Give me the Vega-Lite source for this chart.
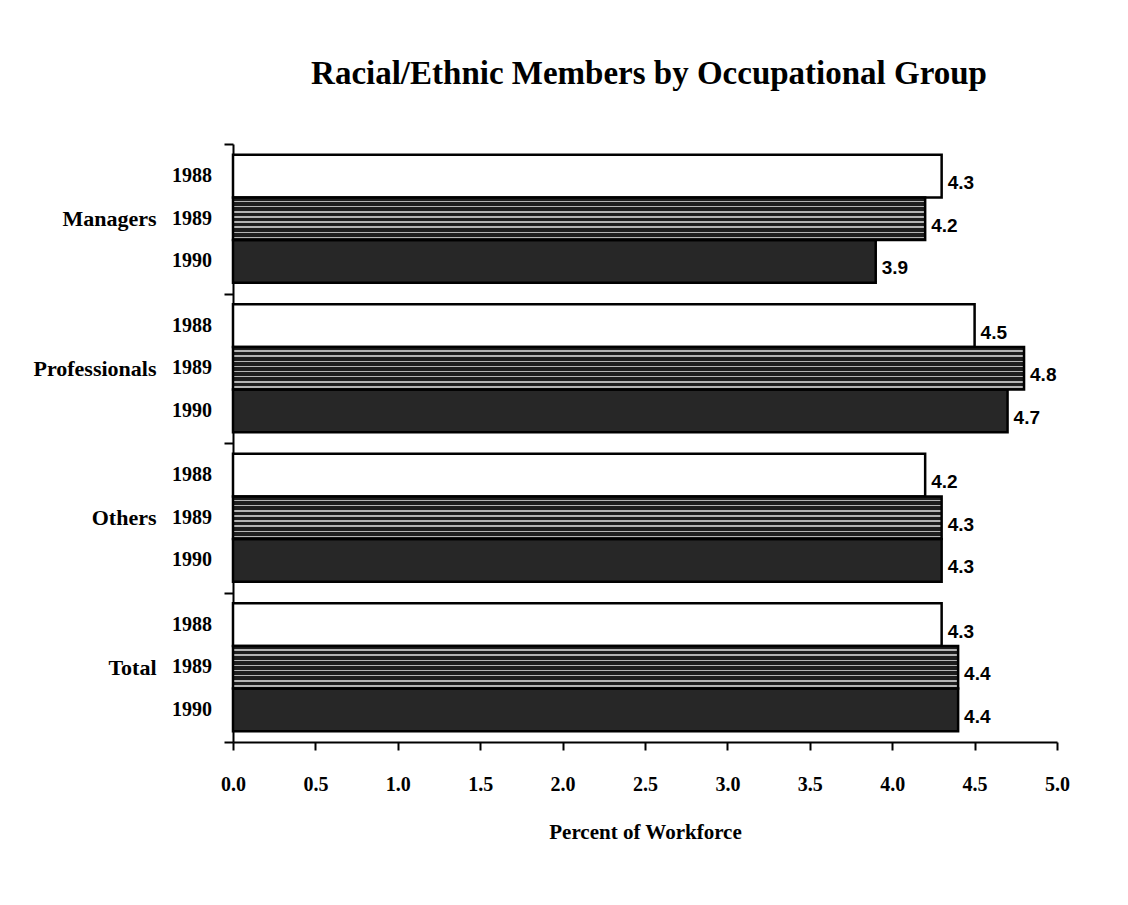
{
  "$schema": "https://vega.github.io/schema/vega-lite/v6.json",
  "width": 824,
  "height": 598,
  "autosize": {"type": "none"},
  "padding": {"left": 233, "top": 144, "right": 71, "bottom": 163},
  "background": "white",
  "config": {"view": {"stroke": null}},
  "title": {
    "text": "Racial/Ethnic Members by Occupational Group",
    "font": "Liberation Serif",
    "fontSize": 33,
    "fontWeight": "bold",
    "color": "black",
    "anchor": "middle",
    "frame": "group",
    "offset": 42,
    "dx": 4
  },
  "data": {
    "values": [
      {"group": "Managers", "year": "1988", "value": 4.3},
      {"group": "Managers", "year": "1989", "value": 4.2},
      {"group": "Managers", "year": "1990", "value": 3.9},
      {"group": "Professionals", "year": "1988", "value": 4.5},
      {"group": "Professionals", "year": "1989", "value": 4.8},
      {"group": "Professionals", "year": "1990", "value": 4.7},
      {"group": "Others", "year": "1988", "value": 4.2},
      {"group": "Others", "year": "1989", "value": 4.3},
      {"group": "Others", "year": "1990", "value": 4.3},
      {"group": "Total", "year": "1988", "value": 4.3},
      {"group": "Total", "year": "1989", "value": 4.4},
      {"group": "Total", "year": "1990", "value": 4.4}
    ]
  },
  "encoding": {
    "y": {
      "field": "group",
      "type": "nominal",
      "sort": ["Managers", "Professionals", "Others", "Total"],
      "scale": {"paddingInner": 0, "paddingOuter": 0},
      "axis": {
        "title": null,
        "tickBand": "extent",
        "tickSize": 9,
        "tickWidth": 2,
        "tickColor": "black",
        "domainColor": "black",
        "domainWidth": 2,
        "labelFont": "Liberation Serif",
        "labelFontWeight": "bold",
        "labelFontSize": 22,
        "labelColor": "black",
        "labelPadding": 68
      }
    },
    "yOffset": {
      "field": "year",
      "type": "nominal",
      "sort": ["1988", "1989", "1990"],
      "scale": {"domain": ["1988", "1989", "1990"], "paddingInner": 0, "paddingOuter": 0.25}
    }
  },
  "layer": [
    {
      "transform": [{"filter": "datum.year !== '1989'"}],
      "mark": {"type": "bar", "stroke": "black", "strokeWidth": 2.5},
      "encoding": {
        "x": {
          "field": "value",
          "type": "quantitative",
          "scale": {"domain": [0, 5], "nice": false},
          "axis": {
            "title": "Percent of Workforce",
            "values": [0, 0.5, 1, 1.5, 2, 2.5, 3, 3.5, 4, 4.5, 5],
            "format": ".1f",
            "grid": false,
            "labelFont": "Liberation Serif",
            "labelFontWeight": "bold",
            "labelFontSize": 20,
            "labelColor": "black",
            "labelPadding": 24,
            "labelFlush": false,
            "tickSize": 8,
            "tickWidth": 2,
            "tickColor": "black",
            "domainColor": "black",
            "domainWidth": 2,
            "titleFont": "Liberation Serif",
            "titleFontSize": 21,
            "titleFontWeight": "bold",
            "titleColor": "black",
            "titlePadding": 27
          }
        },
        "fill": {
          "field": "year",
          "type": "nominal",
          "scale": {"domain": ["1988", "1990"], "range": ["white", "#272727"]},
          "legend": null
        }
      }
    },
    {
      "transform": [{"filter": "datum.year === '1989'"}],
      "mark": {
        "type": "bar",
        "stroke": "black",
        "strokeWidth": 2.5,
        "fill": {
          "gradient": "linear",
          "x1": 0, "y1": 0, "x2": 0, "y2": 1,
          "stops": [
            {"offset": 0, "color": "#1e1e1e"},
            {"offset": 0.08, "color": "#1e1e1e"}, {"offset": 0.08, "color": "#b4b4b4"}, {"offset": 0.115, "color": "#b4b4b4"}, {"offset": 0.115, "color": "#1e1e1e"},
            {"offset": 0.2, "color": "#1e1e1e"}, {"offset": 0.2, "color": "#b4b4b4"}, {"offset": 0.235, "color": "#b4b4b4"}, {"offset": 0.235, "color": "#1e1e1e"},
            {"offset": 0.32, "color": "#1e1e1e"}, {"offset": 0.32, "color": "#b4b4b4"}, {"offset": 0.355, "color": "#b4b4b4"}, {"offset": 0.355, "color": "#1e1e1e"},
            {"offset": 0.44, "color": "#1e1e1e"}, {"offset": 0.44, "color": "#b4b4b4"}, {"offset": 0.475, "color": "#b4b4b4"}, {"offset": 0.475, "color": "#1e1e1e"},
            {"offset": 0.56, "color": "#1e1e1e"}, {"offset": 0.56, "color": "#b4b4b4"}, {"offset": 0.595, "color": "#b4b4b4"}, {"offset": 0.595, "color": "#1e1e1e"},
            {"offset": 0.68, "color": "#1e1e1e"}, {"offset": 0.68, "color": "#b4b4b4"}, {"offset": 0.715, "color": "#b4b4b4"}, {"offset": 0.715, "color": "#1e1e1e"},
            {"offset": 0.8, "color": "#1e1e1e"}, {"offset": 0.8, "color": "#b4b4b4"}, {"offset": 0.835, "color": "#b4b4b4"}, {"offset": 0.835, "color": "#1e1e1e"},
            {"offset": 0.92, "color": "#1e1e1e"}, {"offset": 0.92, "color": "#b4b4b4"}, {"offset": 0.955, "color": "#b4b4b4"}, {"offset": 0.955, "color": "#1e1e1e"},
            {"offset": 1, "color": "#1e1e1e"}
          ]
        }
      },
      "encoding": {
        "x": {"field": "value", "type": "quantitative"}
      }
    },
    {
      "mark": {
        "type": "text",
        "align": "right",
        "baseline": "middle",
        "dx": -21,
        "font": "Liberation Serif",
        "fontWeight": "bold",
        "fontSize": 20,
        "color": "black"
      },
      "encoding": {
        "x": {"datum": 0},
        "text": {"field": "year"}
      }
    },
    {
      "mark": {
        "type": "text",
        "align": "left",
        "baseline": "middle",
        "dx": 6,
        "dy": 7,
        "font": "Liberation Sans",
        "fontWeight": "bold",
        "fontSize": 19,
        "color": "black"
      },
      "encoding": {
        "x": {"field": "value", "type": "quantitative"},
        "text": {"field": "value", "type": "quantitative", "format": ".1f"}
      }
    }
  ]
}
